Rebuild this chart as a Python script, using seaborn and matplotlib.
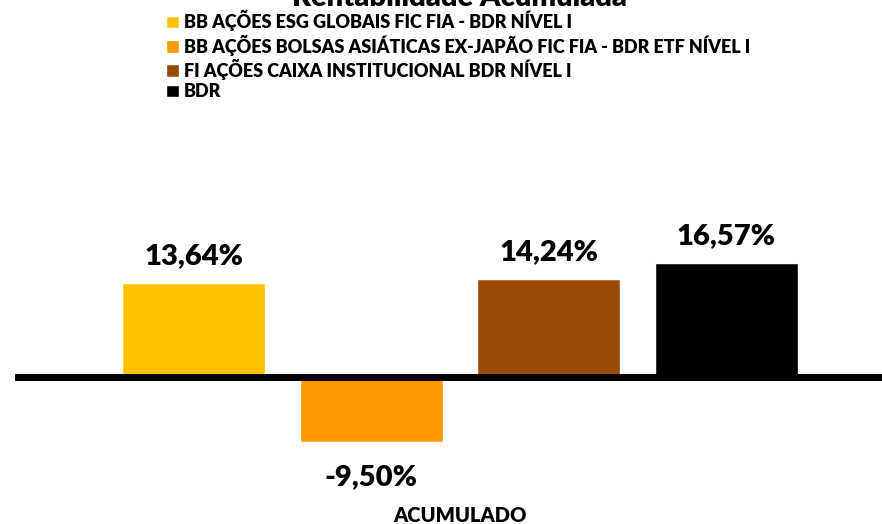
import matplotlib
matplotlib.use("Agg")
import matplotlib.pyplot as plt
import seaborn as sns
import pandas as pd

funds = [
    "BB AÇÕES ESG GLOBAIS FIC FIA - BDR NÍVEL I",
    "BB AÇÕES BOLSAS ASIÁTICAS EX-JAPÃO FIC FIA - BDR ETF NÍVEL I",
    "FI AÇÕES CAIXA INSTITUCIONAL BDR NÍVEL I",
    "BDR",
]
values = [13.64, -9.50, 14.24, 16.57]
category = ["ACUMULADO"] * 4
colors = ["#FFC000", "#FF9A00", "#994A08", "#000000"]
title = "Rentabilidade Acumulada"

sns.set_theme(style="white")
plt.rcParams["font.family"] = ["Lato", "DejaVu Sans"]
plt.rcParams["font.weight"] = "heavy"
plt.rcParams["text.color"] = "black"
plt.rcParams["xtick.color"] = "black"

df = pd.DataFrame({"cat": category, "fund": funds, "value": values})

fig = plt.figure(figsize=(8.82, 5.24), dpi=100)
W, H = 882, 524
ax = fig.add_axes([15 / W, (H - 460) / H, 867 / W, 360 / H])

sns.barplot(data=df, x="cat", y="value", hue="fund", palette=colors,
            hue_order=funds, width=0.8, gap=0.195, saturation=1,
            ax=ax, legend=True)

ax.set_xlim(-0.5014, 0.4755)
ax.set_ylim(-12.1, 40.4)
ax.axhline(0, color="black", lw=5, zorder=5)

for cont in ax.containers:
    v = cont.datavalues[0]
    ax.bar_label(cont, labels=[f"{x:.2f}%".replace(".", ",") for x in cont.datavalues],
                 padding=10 if v >= 0 else 16, fontsize=21, fontweight="heavy",
                 color="black")

for s in ax.spines.values():
    s.set_visible(False)
ax.set_yticks([])
ax.set_xlabel("")
ax.set_ylabel("")
ax.tick_params(axis="x", length=0, pad=33)
ax.set_xticks([0])
ax.set_xticklabels(["ACUMULADO"], fontsize=14.5, fontweight="heavy", color="black")

handles, labels = ax.get_legend_handles_labels()
ax.legend(handles, labels, loc="upper left", bbox_to_anchor=(166 / W, 1 - 10 / H),
          bbox_transform=fig.transFigure, frameon=False,
          handlelength=0.7, handleheight=0.7, handletextpad=0.3,
          labelspacing=0.18, borderaxespad=0, borderpad=0,
          prop={"weight": "heavy", "size": 13.0})

fig.text(460 / W, 1 - 6 / H, title, ha="center", va="baseline",
         fontsize=21, fontweight="heavy")

fig.savefig("out.png", dpi=100, facecolor="white")
